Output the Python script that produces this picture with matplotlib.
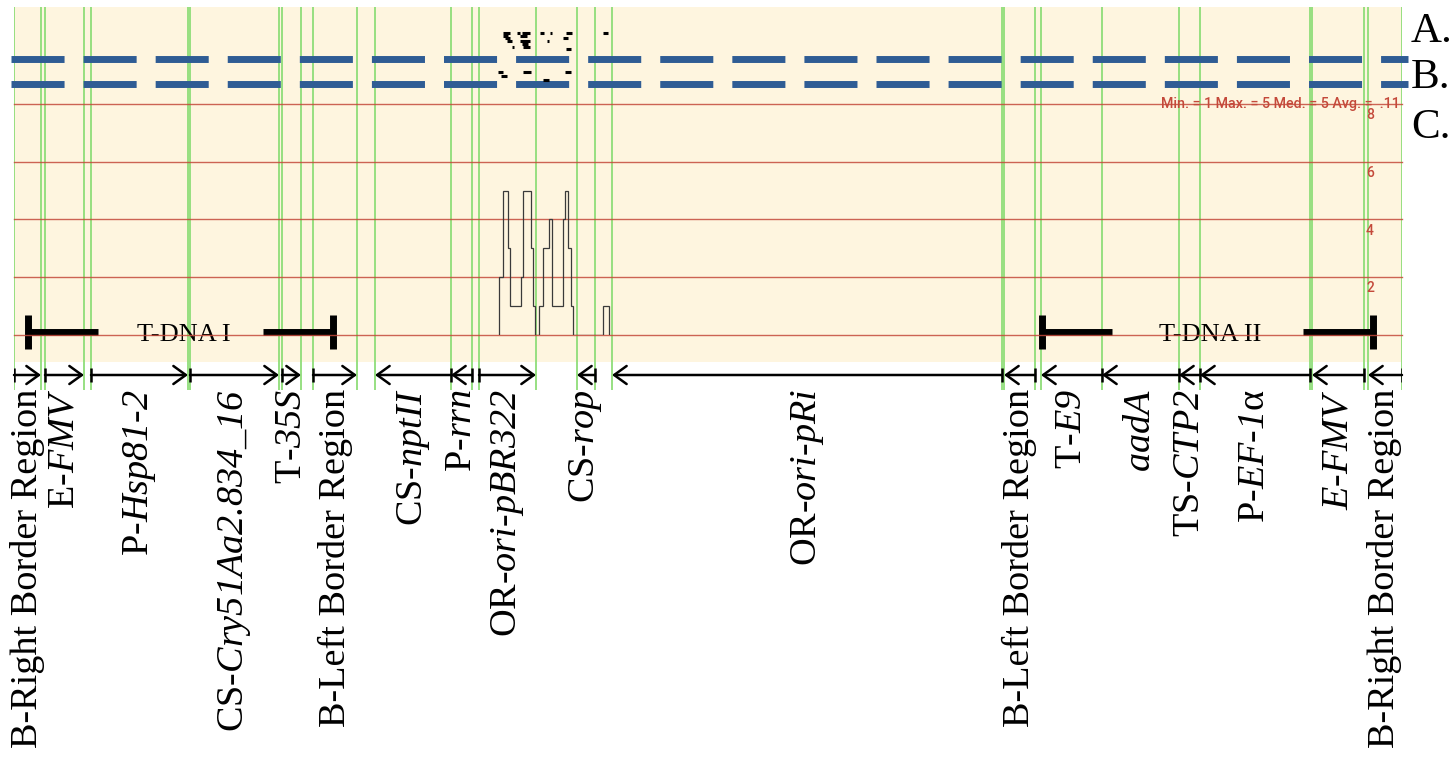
import matplotlib
matplotlib.use("Agg")
import matplotlib.pyplot as plt
from matplotlib.patches import ArrowStyle

plt.rcParams['lines.scale_dashes'] = False
plt.rcParams['mathtext.fontset'] = 'custom'
plt.rcParams['mathtext.rm'] = 'Liberation Serif:italic'
plt.rcParams['mathtext.it'] = 'Liberation Serif:italic'
plt.rcParams['mathtext.bf'] = 'Liberation Serif:bold'

# ---------------- data (positions in bp) ----------------
feat_start = [0, 310, 770, 1760, 2680, 2990, 3610, 4370, 4650, 5630, 5980,
              9900, 10270, 10880, 11650, 11860, 12980, 13540]
feat_end = [270, 700, 1740, 2650, 2870, 3430, 4370, 4580, 5220, 5810, 9880,
            10210, 10880, 11650, 11860, 12960, 13500, 13880]
feat_strand = [1, 1, 1, 1, 1, 1, -1, -1, 1, -1, -1,
               -1, -1, -1, -1, -1, -1, -1]
feat_label = [
    "B-Right Border Region",
    r"E-$FMV$",
    r"P-$Hsp81$-$2$",
    r"CS-$Cry51Aa2.834$_$16$",
    r"T-$35S$",
    "B-Left Border Region",
    r"CS-$nptII$",
    r"P-$rrn$",
    r"OR-$ori$-$pBR322$",
    r"CS-$rop$",
    r"OR-$ori$-$pRi$",
    "B-Left Border Region",
    r"T-$E9$",
    r"$aadA$",
    r"TS-$CTP2$",
    r"P-$EF$-$1$α",
    r"$E$-$FMV$",
    "B-Right Border Region",
]

tdna_start = [140, 10280]
tdna_end = [3190, 13590]
tdna_label = ["T-DNA I", "T-DNA II"]

# coverage depth (step edges in bp, depth per interval)
cov_edges = [4850, 4890, 4940, 4960, 5070, 5090, 5170, 5190, 5210, 5250,
             5290, 5350, 5380, 5490, 5510, 5540, 5570, 5590, 5890, 5950]
cov_depth = [2, 5, 3, 1, 2, 5, 3, 1, 0, 1, 3, 4, 1, 4, 5, 3, 1, 0, 1]
cov_ticks = [2, 4, 6, 8]
cov_stats = "Min. = 1 Max. = 5 Med. = 5 Avg. =  .11"

# reads track A (start, end, row)
readsA_start = [4890, 4890, 4910, 4930, 4980, 5030, 5080, 5060, 5060, 5080, 5090,
                5260, 5360, 5330, 5520, 5490, 5520, 5890]
readsA_end = [4960, 4940, 4960, 4980, 5000, 5060, 5160, 5130, 5160, 5140, 5160,
              5300, 5380, 5350, 5580, 5540, 5570, 5940]
readsA_row = [0, 1, 2, 3, 5, 0, 0, 1, 3, 4, 5, 0, 0, 3, 0, 2, 6, 0]
# reads track B
readsB_start = [4840, 4870, 5090, 5290, 5510]
readsB_end = [4890, 4930, 5170, 5350, 5570]
readsB_row = [0, 1, 0, 2, 0]

track_names = ["A.", "B.", "C."]

# ---------------- styles ----------------
BEIGE = '#FEF5DF'
GREEN = '#8FDD78'
RED = '#C4493A'
BLUE = '#2F5C94'
SERIF = 'Liberation Serif'

W_PX, H_PX = 1454, 758
fig = plt.figure(figsize=(W_PX / 100, H_PX / 100), dpi=100)
fig.patch.set_facecolor('white')

L = 14 / W_PX
Wd = 1388 / W_PX
XMAX = 13880

ax = fig.add_axes([L, 0, Wd, 1])
ax.set_xlim(0, XMAX)
ax.set_ylim(H_PX, 0)
ax.axis('off')

axc = fig.add_axes([L, (H_PX - 335) / H_PX, Wd, (335 - 104) / H_PX])
axc.set_xlim(0, XMAX)
axc.set_ylim(0, 8)
axc.axis('off')
axc.patch.set_alpha(0)

# background
ax.axhspan(7, 362, color=BEIGE, zorder=0, lw=0)

# green boundaries
bounds = sorted(set(feat_start + feat_end))
ax.vlines(bounds, 7, 390, color=GREEN, lw=1.3, zorder=1)

# blue dashed tracks
px_per_bp = 1388 / XMAX
x0 = -3 / px_per_bp
x1 = XMAX + 6 / px_per_bp
for yy in (59, 84):
    ax.plot([x0, x1], [yy, yy], color=BLUE, lw=5.0, dashes=(38.2, 13.7),
            solid_capstyle='butt', dash_capstyle='butt', clip_on=False, zorder=3)

# reads
ax.hlines([33 + 2.7 * r for r in readsA_row], readsA_start, readsA_end,
          color='black', lw=2.2, zorder=4)
ax.hlines([72 + 4 * r for r in readsB_row], readsB_start, readsB_end,
          color='black', lw=2.2, zorder=4)

# coverage grid
for v in [0] + cov_ticks:
    axc.axhline(v, color=RED, lw=1.0, zorder=2, alpha=0.85, clip_on=False)
for v in cov_ticks:
    axc.annotate(str(v), xy=(13560, v), xytext=(0, -3), textcoords='offset points',
                 ha='center', va='top', color=RED, fontsize=10, family='Roboto',
                 fontweight='medium')
axc.text(XMAX - 20, 8, cov_stats, ha='right', va='center', color=RED,
         fontsize=10.3, family='Roboto', fontweight='medium', zorder=5)
axc.stairs(cov_depth, cov_edges, baseline=0, color='#3a3a3a', lw=0.9, zorder=4)

# T-DNA brackets
arm = 700
for s, e, lab in zip(tdna_start, tdna_end, tdna_label):
    ax.plot([s, s + arm], [332, 332], color='black', lw=5, solid_capstyle='butt', zorder=5)
    ax.plot([e - arm, e], [332, 332], color='black', lw=5, solid_capstyle='butt', zorder=5)
    ax.vlines([s, e], 315, 349, color='black', lw=5, zorder=5)
    ax.text((s + e) / 2 + 30, 341, lab, ha='center', va='baseline',
            fontsize=19, family=SERIF, zorder=6)

# feature arrows
style = ArrowStyle('->', head_length=0.9, head_width=0.65)
for s, e, st in zip(feat_start, feat_end, feat_strand):
    tail, head = (s, e) if st > 0 else (e, s)
    ax.annotate('', xy=(head, 375), xytext=(tail, 375),
                arrowprops=dict(arrowstyle=style, lw=1.8, color='black',
                                shrinkA=0, shrinkB=0, mutation_scale=10),
                zorder=5)
    ax.vlines(tail, 368, 382, color='black', lw=1.8, zorder=5)

# feature labels
for s, e, lab in zip(feat_start, feat_end, feat_label):
    ax.text((s + e) / 2, 389, lab, rotation=90, ha='center', va='top',
            fontsize=27.5, family=SERIF, zorder=6)

# track names
for name, yb in zip(track_names, (42, 88, 138)):
    fig.text(1411 / W_PX, 1 - yb / H_PX, name, ha='left', va='baseline',
             fontsize=31, family=SERIF)

fig.savefig('out.png', dpi=100, facecolor='white')
